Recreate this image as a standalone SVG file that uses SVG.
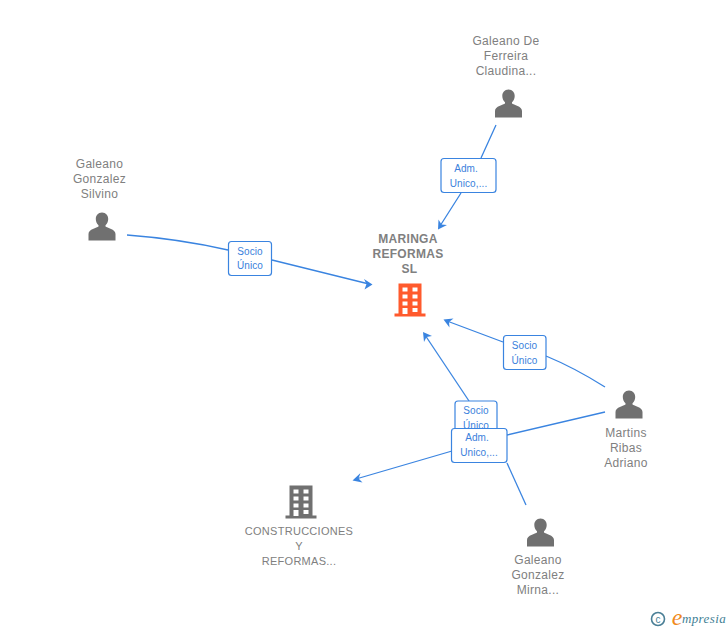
<svg xmlns="http://www.w3.org/2000/svg" width="728" height="630" viewBox="0 0 728 630">
<style>
text{font-family:"Liberation Sans",Arial,sans-serif;text-anchor:middle}
.n{font-size:12px;fill:#808080;letter-spacing:.3px}
.c{font-size:11px;fill:#808080;letter-spacing:.28px}
.m{font-size:12px;fill:#808080;font-weight:bold;letter-spacing:.3px}
.l{font-size:10px;fill:#3a7fdc;letter-spacing:.1px}
.e{fill:none;stroke:#3a84e0;stroke-width:1.3}
.a{fill:#3a84e0;stroke:none}
.b{fill:#fff;stroke:#3a84e0;stroke-width:1.2}
.p{fill:#707070}
</style>
<defs>
<g id="person"><path d="M0 -14.500C-4 -14.500 -6.200 -11.500 -6.200 -8C-6.200 -5.500 -5.200 -3.300 -3.500 -1.800L-3.500 -0.500C-5 1 -13.500 2 -13.500 7V13.500H13.500V7C13.500 2 5 1 3.500 -0.500L3.500 -1.800C5.200 -3.300 6.200 -5.500 6.200 -8C6.200 -11.500 4 -14.500 0 -14.500Z"/></g>
<g id="bld"><path fill-rule="evenodd" d="M-11.500 -16.500H11.500V13.500H15.500V16.500H-15.500V13.500H-11.500ZM-7.500 -12.500V-8.500H-2.500V-12.500ZM2.500 -12.500V-8.500H7.500V-12.500ZM-7.500 -5.500V-1.500H-2.500V-5.500ZM2.500 -5.500V-1.500H7.500V-5.500ZM-7.500 1.500V5.500H-2.500V1.500ZM2.500 1.500V5.500H7.500V1.500ZM-7.500 8V14H-2.500V8ZM2.500 8V12H7.500V8Z"/></g>
</defs>
<g id="connectors">
<path class="e" d="M127 235Q180 239 228 250M272 260L369 284"/>
<path class="a" d="M372.500 284.500L364 279L366.500 284L364.500 289.500Z"/>
<path class="e" d="M496 125L481 158M461 193L440 226"/>
<path class="a" d="M438 229.500L438.500 219.500L441.500 224.500L447 225Z"/>
<path class="e" d="M605 387Q575 368 546 356M503 342L447 321"/>
<path class="a" d="M443.500 319.500L453.500 318.500L449 322L449.500 327.500Z"/>
<path class="e" d="M469 401L425 335"/>
<path class="a" d="M423 332L424 342L426.500 337L432 336Z"/>
<path class="e" d="M605 412L507 435M452 451L356 479"/>
<path class="a" d="M352.500 480.500L360.500 473L358.500 478.500L362.500 482.500Z"/>
<path class="e" d="M526 505L507 463"/>
</g>
<g id="n-maringa"><text class="m" x="408" y="243">MARINGA</text><text class="m" x="408" y="258">REFORMAS</text><text class="m" x="409.500" y="273">SL</text><use href="#bld" x="410" y="300" fill="#ff5a2d"/></g>
<g id="n-claudina"><text class="n" x="506" y="45">Galeano De</text><text class="n" x="506" y="60">Ferreira</text><text class="n" x="506" y="75">Claudina...</text><use href="#person" class="p" x="508.500" y="104"/></g>
<g id="n-silvino"><text class="n" x="99.500" y="168">Galeano</text><text class="n" x="99.500" y="183">Gonzalez</text><text class="n" x="99.500" y="198">Silvino</text><use href="#person" class="p" x="102" y="227"/></g>
<g id="n-adriano"><use href="#person" class="p" x="629" y="405"/><text class="n" x="626" y="437">Martins</text><text class="n" x="626" y="452">Ribas</text><text class="n" x="626" y="467">Adriano</text></g>
<g id="n-mirna"><use href="#person" class="p" x="540.500" y="533"/><text class="n" x="538" y="564">Galeano</text><text class="n" x="538" y="579">Gonzalez</text><text class="n" x="538" y="594">Mirna...</text></g>
<g id="n-construcciones"><use href="#bld" x="301" y="502" fill="#707070"/><text class="c" x="299" y="535">CONSTRUCCIONES</text><text class="c" x="299" y="550">Y</text><text class="c" x="299" y="565">REFORMAS...</text></g>
<g id="labels">
<g id="l1"><rect class="b" x="228.500" y="241.500" width="43" height="34" rx="3"/><text class="l" x="250" y="254.500">Socio</text><text class="l" x="250" y="269">Único</text></g>
<g id="l2"><rect class="b" x="441" y="158.500" width="55" height="34" rx="3"/><text class="l" x="466" y="172">Adm.</text><text class="l" x="468.500" y="187">Unico,...</text></g>
<g id="l3"><rect class="b" x="503.500" y="335.500" width="42.500" height="34" rx="3"/><text class="l" x="524.500" y="349">Socio</text><text class="l" x="524.500" y="364">Único</text></g>
<g id="l4"><rect class="b" x="455" y="401" width="42" height="34" rx="3"/><text class="l" x="476" y="414">Socio</text><text class="l" x="476" y="429">Único</text></g>
<g id="l5"><rect class="b" x="451.500" y="428.500" width="55.500" height="34" rx="3"/><text class="l" x="477" y="441">Adm.</text><text class="l" x="479" y="456">Unico,...</text></g>
</g>
<g id="logo"><circle cx="658" cy="619" r="6.500" fill="none" stroke="#4a7f96" stroke-width="1.6"/><text x="658" y="622.500" style="font-size:10px;fill:#4a7f96">c</text><text x="677" y="625" style="font-size:24px;fill:#f08a1d;font-family:'Liberation Serif',serif;font-style:italic">e</text><text x="704" y="623" style="font-size:13px;fill:#3f7f95;font-style:italic;font-family:'Liberation Serif',serif;letter-spacing:.4px">mpresia</text></g>
</svg>
